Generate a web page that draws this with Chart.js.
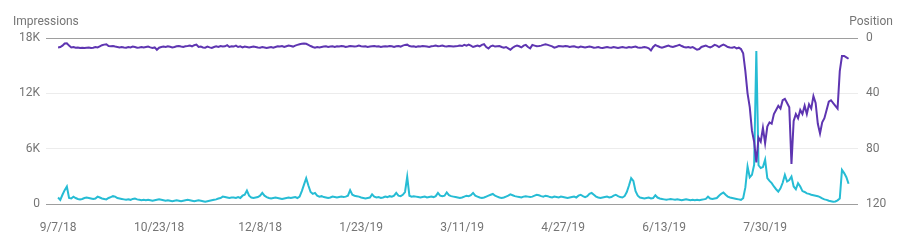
<!DOCTYPE html>
<html>
<head>
<meta charset="utf-8">
<script src="https://cdn.jsdelivr.net/npm/chart.js@4"></script>
<style>
  html, body { margin: 0; padding: 0; background: #fff; }
  .chartDiv { width: 901px; height: 245px; position: relative; }
</style>
</head>
<body>
<div class="chartDiv"><canvas id="myChart"></canvas></div>
<script>
// daily values, 9/7/18 onward
const impressions = [
  700, 450, 1000, 1500, 1900, 650, 600, 800, 650, 550,
  500, 550, 650, 700, 650, 600, 550, 600, 800, 700,
  600, 550, 500, 650, 750, 850, 800, 650, 600, 550,
  500, 450, 500, 450, 550, 600, 500, 450, 400, 450,
  400, 450, 400, 350, 400, 450, 500, 450, 400, 350,
  400, 350, 300, 350, 400, 350, 300, 350, 400, 450,
  400, 350, 300, 350, 400, 350, 300, 250, 300, 350,
  400, 450, 500, 600, 650, 800, 750, 700, 650, 700,
  700, 650, 750, 650, 900, 1000, 1450, 900, 700, 650,
  700, 750, 900, 1200, 900, 750, 650, 600, 650, 700,
  650, 600, 550, 600, 650, 700, 650, 700, 750, 650,
  800, 1400, 2100, 2800, 2000, 1300, 1100, 1200, 900, 800,
  850, 750, 700, 650, 700, 800, 750, 700, 750, 800,
  750, 800, 900, 1500, 1000, 900, 850, 800, 700, 650,
  600, 650, 700, 1050, 800, 700, 750, 650, 700, 800,
  750, 850, 800, 900, 1200, 900, 850, 1000, 1300, 2950,
  900, 800, 850, 800, 750, 700, 750, 800, 700, 750,
  800, 750, 850, 1200, 900, 850, 900, 1250, 950, 850,
  800, 750, 700, 650, 700, 800, 900, 850, 950, 1200,
  900, 800, 700, 650, 700, 800, 900, 1000, 1090, 900,
  800, 700, 650, 700, 800, 900, 1050, 950, 850, 800,
  750, 700, 800, 850, 800, 750, 800, 900, 1000, 950,
  850, 800, 900, 850, 750, 700, 800, 750, 700, 800,
  750, 700, 650, 700, 750, 800, 700, 900, 1000, 850,
  750, 850, 1100, 1200, 1000, 800, 700, 650, 700, 750,
  800, 700, 750, 900, 1000, 850, 750, 700, 850, 1300,
  2000, 2800, 2500, 1400, 900, 700, 650, 600, 650, 700,
  600, 650, 950, 700, 600, 550, 500, 450, 500, 550,
  500, 450, 500, 450, 400, 450, 500, 450, 400, 450,
  400, 450, 400, 450, 500, 550, 800, 600, 550, 600,
  650, 900, 1100, 1250, 1000, 800, 700, 650, 600, 550,
  500, 450, 620, 1800, 4070, 2900, 3160, 4250, 16600, 4200,
  3900, 4000, 4800, 2800, 2500, 2260, 1900, 1600, 1340, 1700,
  2300, 3160, 2440, 2600, 2980, 1900, 1600, 2260, 1900, 1400,
  1300, 1150, 1100, 1000, 950, 900, 850, 750, 600, 500,
  450, 350, 300, 250, 280, 400, 600, 3700, 3350, 2900, 2200
]

const position = [
  6.8, 6.5, 5.5, 4.0, 3.8, 5.5, 6.8, 6.5, 7.0, 6.8,
  7.2, 7.0, 7.3, 7.0, 6.8, 7.2, 7.0, 6.5, 6.8, 6.0,
  5.2, 4.8, 4.5, 5.8, 6.0, 5.8, 6.2, 6.5, 6.8, 6.5,
  6.8, 7.0, 6.5, 6.8, 6.2, 6.5, 7.0, 6.8, 6.5, 6.8,
  6.5, 6.2, 6.8, 7.2, 6.8, 8.5, 7.0, 6.5, 6.2, 6.5,
  6.0, 6.3, 6.8, 6.5, 6.0, 5.8, 6.2, 6.5, 6.0, 5.8,
  5.5, 6.0, 5.2, 4.8, 6.5, 6.2, 6.8, 7.0, 6.2, 6.8,
  7.2, 6.5, 6.0, 6.5, 5.8, 6.2, 6.0, 5.2, 6.5, 6.0,
  6.2, 5.5, 6.5, 6.0, 6.8, 6.2, 6.5, 6.8, 6.5, 6.2,
  6.5, 6.8, 7.0, 6.5, 6.8, 7.2, 6.8, 6.5, 7.0, 6.5,
  6.0, 6.2, 5.8, 6.5, 6.0, 5.5, 5.8, 6.2, 5.5, 5.0,
  4.5, 4.2, 4.0, 4.2, 5.0, 5.8, 6.5, 7.0, 6.5, 6.8,
  6.5, 6.2, 6.0, 6.5, 6.2, 6.0, 6.5, 6.0, 6.2, 5.8,
  6.0, 6.5, 6.2, 5.8, 6.0, 6.2, 6.0, 5.5, 6.0, 6.2,
  6.0, 6.5, 6.2, 6.0, 5.8, 6.2, 6.0, 6.5, 6.2, 6.0,
  6.2, 5.8, 6.0, 6.5, 6.0, 5.8, 6.2, 5.5, 5.0, 4.8,
  5.8, 6.2, 6.0, 6.5, 6.0, 6.2, 5.8, 6.0, 6.2, 6.5,
  6.0, 5.8, 5.5, 6.0, 5.8, 5.5, 6.0, 6.2, 5.8, 6.0,
  6.2, 6.0, 5.8, 5.5, 5.8, 5.0, 5.5, 4.8, 5.5, 6.5,
  6.0, 5.5, 6.0, 5.0, 4.4, 6.5, 7.5, 6.0, 5.5, 6.2,
  6.0, 5.8, 6.5, 7.0, 6.5, 7.5, 8.5, 7.0, 6.0, 5.5,
  6.0, 6.8, 5.5, 5.0, 6.5, 7.5, 5.0, 5.5, 6.0, 5.8,
  5.5, 5.0, 4.5, 5.0, 5.5, 6.0, 7.0, 6.5, 5.8, 6.0,
  6.2, 5.8, 6.0, 6.5, 6.2, 6.0, 6.5, 6.8, 6.2, 6.5,
  6.8, 6.5, 6.2, 6.5, 7.0, 6.8, 6.5, 7.0, 7.2, 6.8,
  6.5, 6.8, 7.0, 6.5, 6.8, 7.2, 6.8, 6.5, 6.8, 7.0,
  6.5, 6.8, 6.5, 6.2, 6.8, 7.0, 6.8, 6.5, 6.8, 7.5,
  9.0, 6.5, 5.0, 5.8, 6.5, 7.0, 6.5, 6.0, 5.5, 6.2,
  6.5, 6.0, 5.5, 5.0, 5.8, 6.5, 6.8, 6.5, 7.0, 6.5,
  7.5, 8.5, 8.0, 6.5, 6.0, 5.5, 6.2, 6.8, 6.0, 5.0,
  5.5, 6.5, 5.5, 4.8, 5.5, 6.5, 6.8, 7.0, 6.5, 7.5,
  7, 8, 11, 24, 40, 50, 67, 75, 90, 72,
  75, 65, 76, 64, 61, 62, 55, 52, 49, 51,
  45, 44, 47, 50, 91, 60, 55, 58, 52, 55,
  49, 55, 48, 51, 42, 47, 62, 69, 61, 58,
  52, 46, 45, 47, 49, 51, 24, 13, 13, 14, 15
]

// x ticks every 46 days
const tickDays = [0, 46, 92, 138, 184, 230, 276, 322]
const tickLabels = ['9/7/18', '10/23/18', '12/8/18', '1/23/19', '3/11/19', '4/27/19', '6/13/19', '7/30/19']

const impressionTicks = [0, 6000, 12000, 18000]
const positionTicks = [0, 40, 80, 120]

const grey = '#757575'
const font = { family: 'Roboto', size: 12 }

const axisTitles = {
  id: 'axisTitles',
  afterDraw(chart) {
    const ctx = chart.ctx
    ctx.save()
    ctx.font = '12px Roboto'
    ctx.fillStyle = grey
    ctx.textBaseline = 'middle'
    ctx.textAlign = 'left'
    ctx.fillText('Impressions', 13, 22)
    ctx.textAlign = 'right'
    ctx.fillText('Position', 893, 22)
    ctx.restore()
  }
}

const data = {
  datasets: [{
    label: 'Position',
    yAxisID: 'yPos',
    borderColor: '#5E35B1',
    borderWidth: 2,
    pointRadius: 0,
    tension: 0,
    data: position.map((v, i) => ({ x: i, y: v }))
  }, {
    label: 'Impressions',
    yAxisID: 'yImp',
    borderColor: '#26BCD4',
    borderWidth: 2,
    pointRadius: 0,
    tension: 0,
    data: impressions.map((v, i) => ({ x: i, y: v }))
  }]
}

const config = {
  type: 'line',
  data: data,
  options: {
    responsive: false,
    animation: false,
    layout: { padding: { top: 38, left: 0, right: 0, bottom: 0 } },
    plugins: { legend: { display: false }, tooltip: { enabled: false } },
    scales: {
      x: {
        type: 'linear',
        min: -5.5,
        max: 364.3,
        afterBuildTicks: s => { s.ticks = tickDays.map(v => ({ value: v })) },
        afterFit: s => { s.height = 41; s.paddingLeft = 0; s.paddingRight = 0 },
        ticks: {
          color: grey, font: font, padding: 17, maxRotation: 0, autoSkip: false,
          callback: (v) => tickLabels[tickDays.indexOf(v)] || ''
        },
        grid: { display: false, drawTicks: false },
        border: { display: false }
      },
      yImp: {
        position: 'left',
        min: 0,
        max: 18000,
        afterBuildTicks: s => { s.ticks = impressionTicks.map(v => ({ value: v })) },
        afterFit: s => { s.width = 46 },
        ticks: {
          color: grey, font: font, padding: 6,
          callback: v => v === 0 ? '0' : (v / 1000) + 'K'
        },
        grid: {
          drawTicks: false,
          color: c => (c.index === 0 || c.index === impressionTicks.length - 1) ? '#9e9e9e' : '#ececec',
          lineWidth: 1
        },
        border: { display: false }
      },
      yPos: {
        position: 'right',
        reverse: true,
        min: 0,
        max: 120,
        afterBuildTicks: s => { s.ticks = positionTicks.map(v => ({ value: v })) },
        afterFit: s => { s.width = 43 },
        ticks: { color: grey, font: font, padding: 8 },
        grid: { display: false, drawTicks: false },
        border: { display: false }
      }
    }
  },
  plugins: [axisTitles]
}

const canvas = document.getElementById('myChart')
canvas.width = 901
canvas.height = 245
let myChart = new Chart(canvas, config)
</script>
</body>
</html>
